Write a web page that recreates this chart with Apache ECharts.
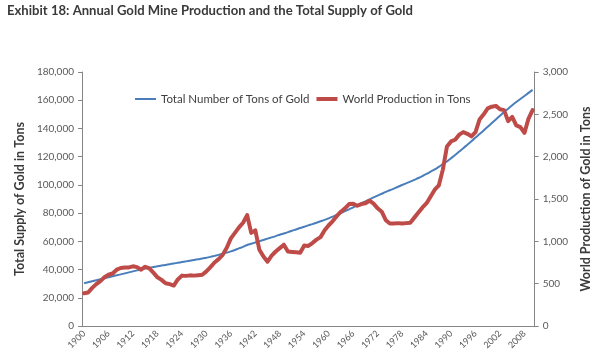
<!DOCTYPE html>
<html>
<head>
<meta charset="utf-8">
<script src="https://cdn.jsdelivr.net/npm/echarts@6/dist/echarts.min.js"></script>
<style>
html,body{margin:0;padding:0;background:#fff;}
#c{width:600px;height:362px;}
</style>
</head>
<body>
<div id="c"></div>
<script>
const years = [];
for (let y = 1900; y <= 2010; y++) years.push(String(y));

const totalSupply = [
30300,31000,31700,32400,33100,33800,34500,35200,35900,36600,
37300,38000,38700,39400,40100,40800,41300,41800,42300,42800,
43300,43800,44300,44800,45300,45800,46300,46800,47300,47800,
48400,49000,49700,50400,51200,52000,52900,53900,55000,56100,
57400,58300,59200,60100,61000,61900,62800,63700,64700,65600,
66500,67500,68400,69400,70300,71300,72200,73200,74200,75200,
76300,77500,78800,80100,81400,82700,84100,85500,86900,88300,
89700,91100,92400,93700,95000,96200,97400,98700,99900,101100,
102300,103600,104900,106300,107800,109400,111000,112800,114700,116600,
118900,121200,123600,126000,128500,131000,133500,136000,138600,141200,
143800,146400,149000,151600,154000,156400,158700,160900,163000,165200,
167300
];

const worldProduction = [
386,395,450,495,530,575,605,620,665,685,
690,692,705,695,665,700,680,630,575,545,
505,495,478,550,595,592,598,595,600,605,
645,695,750,790,840,925,1035,1100,1165,1220,
1310,1100,1130,900,820,760,830,880,920,960,
880,875,870,865,950,945,980,1020,1050,1130,
1190,1240,1300,1350,1390,1440,1445,1420,1440,1450,
1480,1445,1390,1350,1250,1210,1210,1215,1210,1215,
1220,1280,1340,1400,1450,1530,1610,1660,1850,2120,
2180,2200,2260,2290,2270,2240,2290,2440,2500,2570,
2590,2600,2560,2550,2420,2470,2370,2350,2280,2450,
2550
];

const leftTicks = [0,20000,40000,60000,80000,100000,120000,140000,160000,180000];
const rightTicks = [0,500,1000,1500,2000,2500,3000];

const fmt = v => v.toLocaleString('en-US');
const font = 'Lato, "Open Sans", sans-serif';
const chart = echarts.init(document.getElementById('c'), null, {renderer:'canvas'});
chart.setOption({
  animation: false,
  backgroundColor: '#fff',
  title: {
    text: 'Exhibit 18: Annual Gold Mine Production and the Total Supply of Gold',
    left: 2, top: -1,
    textStyle: {fontFamily: font, fontSize: 13.1, fontWeight: 'bold', color: '#3a3a3a'}
  },
  legend: {
    top: 88, left: 130,
    itemWidth: 21, itemHeight: 10, itemGap: 7,
    textStyle: {fontFamily: font, fontSize: 11.5, color: '#404040'},
    data: [
      {name: 'Total Number of Tons of Gold', icon: 'path://M0,0L0.01,0M0,4H22V6H0ZM0,10L0.01,10', itemStyle: {color: '#4a7ebb'}},
      {name: 'World Production in Tons', icon: 'path://M0,0L0.01,0M0,3H22V7H0ZM0,10L0.01,10', itemStyle: {color: '#be4b48'}}
    ]
  },
  grid: {left: 82, right: 62, top: 72, bottom: 36, containLabel: false},
  xAxis: {
    type: 'category', data: years, boundaryGap: true,
    axisLine: {lineStyle: {color: '#868686'}},
    axisTick: {interval: 0, length: 3, lineStyle: {color: '#868686'}},
    axisLabel: {interval: 5, rotate: 45, fontFamily: font, fontSize: 9, color: '#595959', margin: 6}
  },
  yAxis: [
    {
      type: 'value', min: 0, max: 180000, interval: 20000, position: 'left',
      name: 'Total Supply of Gold in Tons', nameLocation: 'middle', nameGap: 54, nameRotate: 90,
      nameTextStyle: {fontFamily: font, fontSize: 12.5, fontWeight: 'bold', color: '#3a3a3a'},
      axisLine: {show: true, lineStyle: {color: '#868686'}},
      axisTick: {show: true, length: 4, lineStyle: {color: '#868686'}},
      splitLine: {show: false},
      axisLabel: {formatter: v => leftTicks.includes(v) ? fmt(v) : '', fontFamily: font, fontSize: 10, color: '#595959', margin: 8}
    },
    {
      type: 'value', min: 0, max: 3000, interval: 500, position: 'right',
      name: 'World Production of Gold in Tons', nameLocation: 'middle', nameGap: 42, nameRotate: 90,
      nameTextStyle: {fontFamily: font, fontSize: 12.5, fontWeight: 'bold', color: '#3a3a3a'},
      axisLine: {show: true, lineStyle: {color: '#868686'}},
      axisTick: {show: true, length: 4, lineStyle: {color: '#868686'}},
      splitLine: {show: false},
      axisLabel: {formatter: v => rightTicks.includes(v) ? fmt(v) : '', fontFamily: font, fontSize: 10, color: '#595959', margin: 8}
    }
  ],
  series: [
    {
      name: 'Total Number of Tons of Gold', type: 'line', yAxisIndex: 0,
      data: totalSupply, symbol: 'none', smooth: true,
      lineStyle: {color: '#4a7ebb', width: 2}, itemStyle: {color: '#4a7ebb'}
    },
    {
      name: 'World Production in Tons', type: 'line', yAxisIndex: 1,
      data: worldProduction, symbol: 'none',
      lineStyle: {color: '#be4b48', width: 4, join: 'round', cap: 'round'}, itemStyle: {color: '#be4b48'}
    }
  ]
});
</script>
</body>
</html>
